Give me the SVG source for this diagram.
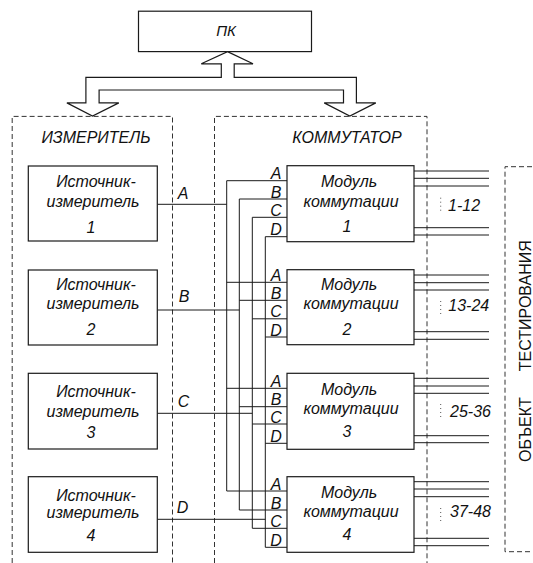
<svg xmlns="http://www.w3.org/2000/svg" width="533" height="563" viewBox="0 0 533 563">
<style>
.box{fill:#fff;stroke:#1a1a1a;stroke-width:1.2}
.dash{fill:none;stroke:#333;stroke-width:1;stroke-dasharray:5 3}
.ln{fill:none;stroke:#1a1a1a;stroke-width:1}
.dots{fill:none;stroke:#555;stroke-width:1;stroke-dasharray:1 3}
.t{font-family:"Liberation Sans",Arial,sans-serif;font-style:italic;font-size:16px;fill:#111}
.p{font-size:16px}
.k{font-size:15px}
.m{text-anchor:middle}
.u{font-family:"Liberation Sans",Arial,sans-serif;font-size:16px;fill:#111}
</style>
<rect width="533" height="563" fill="#fff"/>

<g id="pc">
<rect class="box" x="138.5" y="11.2" width="173" height="40.4"/>
<text class="t m k" x="226" y="35.6">ПК</text>
</g>

<g id="bus-arrow">
<polygon class="box" points="227.5,51.6 253,63.8 234.2,63.8 234.2,77.4 356.4,77.4 356.4,102.9 375.8,102.9 349.8,116.1 324.2,102.9 343.5,102.9 343.5,90 99.1,90 99.1,102.9 118.8,102.9 92.5,116.1 66.9,102.9 85.9,102.9 85.9,77.4 221.3,77.4 221.3,63.8 201.3,63.8"/>
</g>

<g id="meter-group">
<path class="dash" d="M12.2,563 V116.4 H172.5 V563"/>
<text class="t m" x="96" y="142.6">ИЗМЕРИТЕЛЬ</text>
</g>

<g id="switch-group">
<path class="dash" d="M214.5,563 V116.4 H427 V563"/>
<text class="t m" x="347" y="142.6">КОММУТАТОР</text>
</g>

<g id="object">
<path class="dash" d="M540,166.7 H505 V551.7 H540"/>
<text class="u" transform="translate(531,462) rotate(-90)">ОБЪЕКТ<tspan dx="26">ТЕСТИРОВАНИЯ</tspan></text>
</g>

<g id="connectors">
<path class="ln" d="M157.3,204.3 H226.7 M157.3,310 H239.3 M157.3,413.3 H252.3 M157.3,519.3 H265.3"/>
<path class="ln" d="M226.7,180.7 V491 M239.3,199 V510 M252.3,217.3 V528.3 M265.3,236.7 V547.3"/>
<path class="ln" d="M226.7,180.7 H287 M239.3,199 H287 M252.3,217.3 H287 M265.3,236.7 H287"/>
<path class="ln" d="M226.7,282.3 H287 M239.3,300.3 H287 M252.3,318.8 H287 M265.3,337 H287"/>
<path class="ln" d="M226.7,388.3 H287 M239.3,406.7 H287 M252.3,424 H287 M265.3,443.3 H287"/>
<path class="ln" d="M226.7,491 H287 M239.3,510 H287 M252.3,528.3 H287 M265.3,547.3 H287"/>
<path class="ln" d="M414,171 H489 M414,178.3 H489 M414,186 H489 M414,227.7 H489 M414,235 H489"/>
<path class="ln" d="M414,275 H489 M414,282.7 H489 M414,290 H489 M414,331.7 H489 M414,339.3 H489"/>
<path class="ln" d="M414,378.3 H489 M414,386 H489 M414,393.3 H489 M414,435.7 H489 M414,442.7 H489"/>
<path class="ln" d="M414,481.7 H489 M414,489 H489 M414,496.7 H489 M414,538.3 H489 M414,545.7 H489"/>
<path class="dots" d="M440.7,197.7 V212 M440.7,301 V315 M440.7,404 V418 M440.7,508 V522"/>
<text class="t m" x="183" y="199.3">A</text>
<text class="t m" x="184" y="301.7">B</text>
<text class="t m" x="183.5" y="406.7">C</text>
<text class="t m" x="182.5" y="512.7">D</text>
<text class="t" x="448" y="210.7">1-12</text>
<text class="t" x="448.3" y="311">13-24</text>
<text class="t" x="450" y="416.7">25-36</text>
<text class="t" x="450" y="517.3">37-48</text>
</g>

<g id="source1">
<rect class="box" x="28.3" y="166" width="129" height="75"/>
<text class="t m" x="96" y="187.3">Источник-</text>
<text class="t m" x="93" y="206.7">измеритель</text>
<text class="t m" x="91" y="233">1</text>
</g>
<g id="source2">
<rect class="box" x="28.3" y="270" width="129" height="75"/>
<text class="t m" x="96" y="290">Источник-</text>
<text class="t m" x="93" y="309.3">измеритель</text>
<text class="t m" x="91" y="335">2</text>
</g>
<g id="source3">
<rect class="box" x="28.3" y="373.3" width="129" height="75.7"/>
<text class="t m" x="96" y="396.7">Источник-</text>
<text class="t m" x="93" y="416.7">измеритель</text>
<text class="t m" x="91" y="438.3">3</text>
</g>
<g id="source4">
<rect class="box" x="28.3" y="476.7" width="129" height="75.6"/>
<text class="t m" x="96" y="500.7">Источник-</text>
<text class="t m" x="93" y="518.3">измеритель</text>
<text class="t m" x="91" y="540.7">4</text>
</g>

<g id="module1">
<rect class="box" x="287" y="165.7" width="127" height="76"/>
<g class="t m p"><text x="276" y="179.2">A</text><text x="276" y="197.5">B</text><text x="276" y="215.8">C</text><text x="276" y="235.2">D</text></g>
<text class="t m" x="349" y="187.3">Модуль</text>
<text class="t m" x="351" y="206.7">коммутации</text>
<text class="t m" x="347" y="231.7">1</text>
</g>
<g id="module2">
<rect class="box" x="287" y="269.7" width="127" height="75"/>
<g class="t m p"><text x="276" y="280.8">A</text><text x="276" y="298.8">B</text><text x="276" y="317.3">C</text><text x="276" y="335.5">D</text></g>
<text class="t m" x="349" y="290">Модуль</text>
<text class="t m" x="351" y="309.3">коммутации</text>
<text class="t m" x="347" y="335">2</text>
</g>
<g id="module3">
<rect class="box" x="287" y="373.3" width="127" height="76"/>
<g class="t m p"><text x="276" y="386.8">A</text><text x="276" y="405.2">B</text><text x="276" y="422.5">C</text><text x="276" y="441.8">D</text></g>
<text class="t m" x="349" y="395">Модуль</text>
<text class="t m" x="351" y="414">коммутации</text>
<text class="t m" x="347" y="436.7">3</text>
</g>
<g id="module4">
<rect class="box" x="287" y="476.7" width="127" height="75.6"/>
<g class="t m p"><text x="276" y="489.5">A</text><text x="276" y="508.5">B</text><text x="276" y="526.8">C</text><text x="276" y="545.8">D</text></g>
<text class="t m" x="349" y="498.3">Модуль</text>
<text class="t m" x="351" y="516.7">коммутации</text>
<text class="t m" x="347" y="540">4</text>
</g>
</svg>
